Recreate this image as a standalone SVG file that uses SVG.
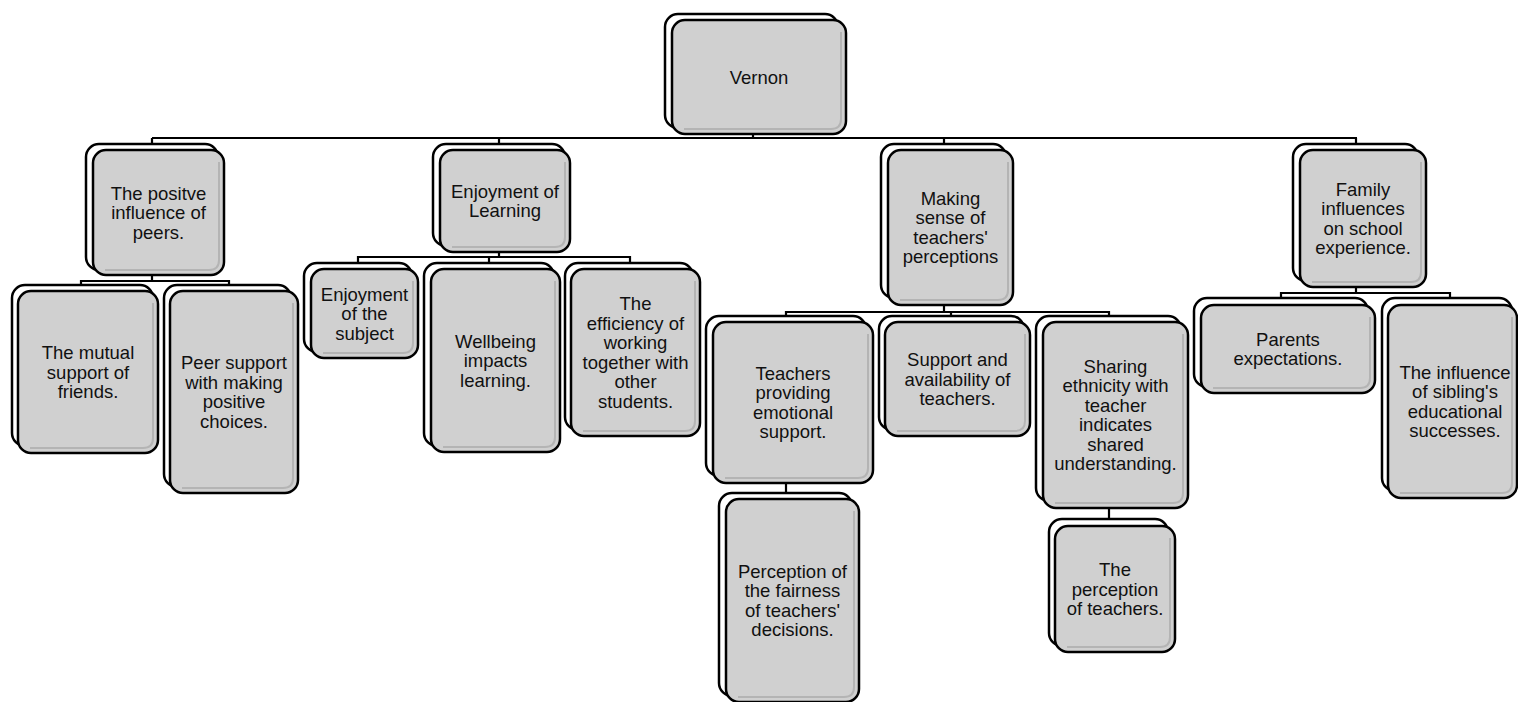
<svg xmlns="http://www.w3.org/2000/svg" width="1518" height="702" viewBox="0 0 1518 702">
<style>
.bk{fill:#fff;stroke:#000;stroke-width:2.5}
.fr{fill:#d0d0d0;stroke:#000;stroke-width:2.5}
.sh{fill:none;stroke:#b4b4b4;stroke-width:2}
.cn{fill:none;stroke:#000;stroke-width:2.2}
text{font-family:"Liberation Sans",Arial,sans-serif;font-size:18.5px;fill:#111;text-anchor:middle}
</style>
<rect width="1518" height="702" fill="#fff"/>
<g id="connectors">
<path class="cn" d="M152,138 H1357 M753,128 V138 M152,138 V145 M499,138 V145 M944,138 V145 M1356,138 V145"/>
<path class="cn" d="M152,270 V281 M81,286 V281 H229 V286"/>
<path class="cn" d="M499,246 V257 M358,264 V257 H630 V264 M489,257 V264"/>
<path class="cn" d="M944,298 V312 M786,317 V312 H1109 V317 M951,312 V317"/>
<path class="cn" d="M786,476 V494"/>
<path class="cn" d="M1109,501 V520"/>
<path class="cn" d="M1356,281 V293 M1281,299 V293 H1450 V299"/>
</g>
<g id="n-vernon">
<rect class="bk" x="665" y="14" width="173" height="114" rx="13"/>
<rect class="fr" x="672" y="20" width="174" height="114" rx="13"/>
<path class="sh" d="M841,32 V119 Q841,129 831,129 H684"/>
<text x="759" y="83.5">Vernon</text>
</g>
<g id="n-peers">
<rect class="bk" x="86" y="144" width="132" height="126" rx="13"/>
<rect class="fr" x="93" y="150" width="131" height="125" rx="13"/>
<path class="sh" d="M219,162 V260 Q219,270 209,270 H105"/>
<text x="158.5" y="199.5">The positve</text>
<text x="158.5" y="219">influence of</text>
<text x="158.5" y="238.5">peers.</text>
</g>
<g id="n-learning">
<rect class="bk" x="433" y="144" width="132" height="102" rx="13"/>
<rect class="fr" x="440" y="150" width="130" height="102" rx="13"/>
<path class="sh" d="M565,162 V237 Q565,247 555,247 H452"/>
<text x="505" y="197.75">Enjoyment of</text>
<text x="505" y="217.25">Learning</text>
</g>
<g id="n-making">
<rect class="bk" x="881" y="144" width="125" height="154" rx="13"/>
<rect class="fr" x="888" y="150" width="125" height="155" rx="13"/>
<path class="sh" d="M1008,162 V290 Q1008,300 998,300 H900"/>
<text x="950.5" y="204.75">Making</text>
<text x="950.5" y="224.25">sense of</text>
<text x="950.5" y="243.75">teachers'</text>
<text x="950.5" y="263.25">perceptions</text>
</g>
<g id="n-family">
<rect class="bk" x="1293" y="144" width="125" height="137" rx="13"/>
<rect class="fr" x="1300" y="150" width="126" height="137" rx="13"/>
<path class="sh" d="M1421,162 V272 Q1421,282 1411,282 H1312"/>
<text x="1363" y="195.75">Family</text>
<text x="1363" y="215.25">influences</text>
<text x="1363" y="234.75">on school</text>
<text x="1363" y="254.25">experience.</text>
</g>
<g id="n-mutual">
<rect class="bk" x="12" y="285" width="141" height="161" rx="13"/>
<rect class="fr" x="18" y="291" width="140" height="162" rx="13"/>
<path class="sh" d="M153,303 V438 Q153,448 143,448 H30"/>
<text x="88" y="359">The mutual</text>
<text x="88" y="378.5">support of</text>
<text x="88" y="398">friends.</text>
</g>
<g id="n-peersupport">
<rect class="bk" x="164" y="285" width="127" height="202" rx="13"/>
<rect class="fr" x="170" y="291" width="128" height="202" rx="13"/>
<path class="sh" d="M293,303 V478 Q293,488 283,488 H182"/>
<text x="234" y="369.25">Peer support</text>
<text x="234" y="388.75">with making</text>
<text x="234" y="408.25">positive</text>
<text x="234" y="427.75">choices.</text>
</g>
<g id="n-subject">
<rect class="bk" x="304" y="263" width="108" height="89" rx="13"/>
<rect class="fr" x="311" y="269" width="107" height="89" rx="13"/>
<path class="sh" d="M413,281 V343 Q413,353 403,353 H323"/>
<text x="364.5" y="300.5">Enjoyment</text>
<text x="364.5" y="320">of the</text>
<text x="364.5" y="339.5">subject</text>
</g>
<g id="n-wellbeing">
<rect class="bk" x="424" y="263" width="130" height="183" rx="13"/>
<rect class="fr" x="431" y="269" width="129" height="183" rx="13"/>
<path class="sh" d="M555,281 V437 Q555,447 545,447 H443"/>
<text x="495.5" y="347.5">Wellbeing</text>
<text x="495.5" y="367">impacts</text>
<text x="495.5" y="386.5">learning.</text>
</g>
<g id="n-efficiency">
<rect class="bk" x="565" y="263" width="128" height="167" rx="13"/>
<rect class="fr" x="571" y="269" width="129" height="167" rx="13"/>
<path class="sh" d="M695,281 V421 Q695,431 685,431 H583"/>
<text x="635.5" y="310.25">The</text>
<text x="635.5" y="329.75">efficiency of</text>
<text x="635.5" y="349.25">working</text>
<text x="635.5" y="368.75">together with</text>
<text x="635.5" y="388.25">other</text>
<text x="635.5" y="407.75">students.</text>
</g>
<g id="n-emotional">
<rect class="bk" x="706" y="316" width="160" height="160" rx="13"/>
<rect class="fr" x="713" y="322" width="160" height="161" rx="13"/>
<path class="sh" d="M868,334 V468 Q868,478 858,478 H725"/>
<text x="793" y="379.75">Teachers</text>
<text x="793" y="399.25">providing</text>
<text x="793" y="418.75">emotional</text>
<text x="793" y="438.25">support.</text>
</g>
<g id="n-availability">
<rect class="bk" x="879" y="316" width="145" height="114" rx="13"/>
<rect class="fr" x="885" y="322" width="145" height="114" rx="13"/>
<path class="sh" d="M1025,334 V421 Q1025,431 1015,431 H897"/>
<text x="957.5" y="366">Support and</text>
<text x="957.5" y="385.5">availability of</text>
<text x="957.5" y="405">teachers.</text>
</g>
<g id="n-sharing">
<rect class="bk" x="1036" y="316" width="145" height="185" rx="13"/>
<rect class="fr" x="1043" y="322" width="145" height="186" rx="13"/>
<path class="sh" d="M1183,334 V493 Q1183,503 1173,503 H1055"/>
<text x="1115.5" y="372.75">Sharing</text>
<text x="1115.5" y="392.25">ethnicity with</text>
<text x="1115.5" y="411.75">teacher</text>
<text x="1115.5" y="431.25">indicates</text>
<text x="1115.5" y="450.75">shared</text>
<text x="1115.5" y="470.25">understanding.</text>
</g>
<g id="n-fairness">
<rect class="bk" x="719" y="493" width="133" height="203" rx="13"/>
<rect class="fr" x="726" y="499" width="133" height="203" rx="13"/>
<path class="sh" d="M854,511 V687 Q854,697 844,697 H738"/>
<text x="792.5" y="577.75">Perception of</text>
<text x="792.5" y="597.25">the fairness</text>
<text x="792.5" y="616.75">of teachers'</text>
<text x="792.5" y="636.25">decisions.</text>
</g>
<g id="n-perception">
<rect class="bk" x="1049" y="519" width="119" height="127" rx="13"/>
<rect class="fr" x="1055" y="526" width="120" height="126" rx="13"/>
<path class="sh" d="M1170,538 V637 Q1170,647 1160,647 H1067"/>
<text x="1115" y="576">The</text>
<text x="1115" y="595.5">perception</text>
<text x="1115" y="615">of teachers.</text>
</g>
<g id="n-parents">
<rect class="bk" x="1194" y="298" width="174" height="89" rx="13"/>
<rect class="fr" x="1201" y="305" width="174" height="88" rx="13"/>
<path class="sh" d="M1370,317 V378 Q1370,388 1360,388 H1213"/>
<text x="1288" y="345.75">Parents</text>
<text x="1288" y="365.25">expectations.</text>
</g>
<g id="n-sibling">
<rect class="bk" x="1382" y="298" width="130" height="193" rx="13"/>
<rect class="fr" x="1388" y="305" width="129" height="193" rx="13"/>
<path class="sh" d="M1512,317 V483 Q1512,493 1502,493 H1400"/>
<text x="1455" y="378.75">The influence</text>
<text x="1455" y="398.25">of sibling's</text>
<text x="1455" y="417.75">educational</text>
<text x="1455" y="437.25">successes.</text>
</g>
</svg>
